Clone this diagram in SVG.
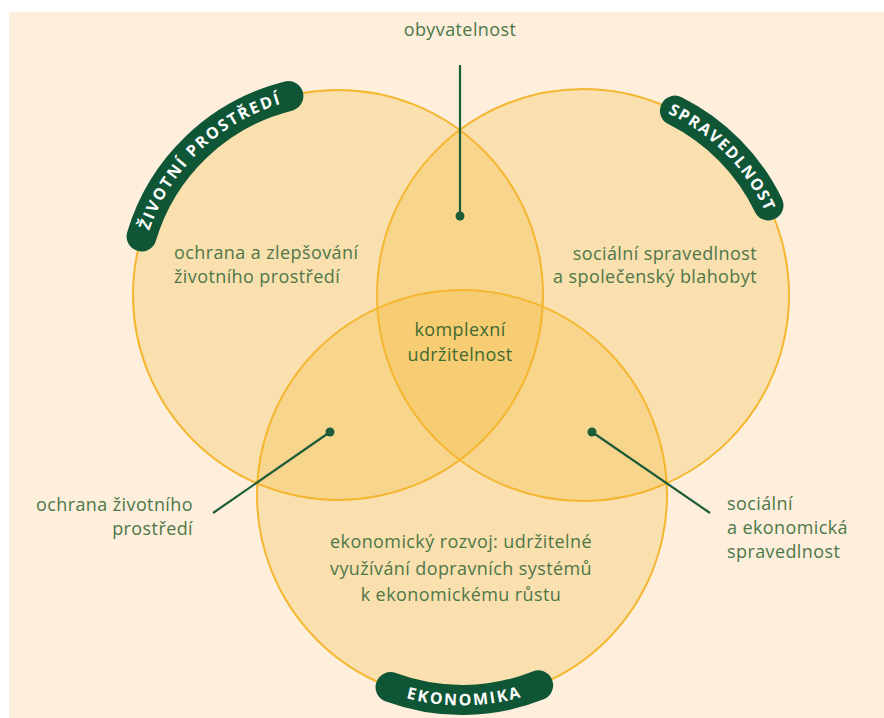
<svg xmlns="http://www.w3.org/2000/svg" width="884" height="718" viewBox="0 0 884 718">
<defs>
<style>
.circ{fill:#F5B530;fill-opacity:0.26;stroke:#F5B731;stroke-width:2}
.badge{fill:none;stroke:#0E5636;stroke-width:30;stroke-linecap:round}
.bt{font-family:"Open Sans","DejaVu Sans",sans-serif;font-weight:700;font-size:16px;fill:#ffffff;letter-spacing:2px}
.lbl{font-family:"Open Sans","DejaVu Sans",sans-serif;font-size:18px;fill:#4E7748;letter-spacing:0.4px}
.ctr{fill:#3F6A2F}
.conn line{stroke:#1E5C38;stroke-width:2.2}
.conn circle{fill:#1E5C38}
</style>
<path id="tpL" d="M139.71,273.1 A199.5,199.5 0 0 1 325.12,95.92"/>
<path id="tpR" d="M636.33,101.69 A200.5,200.5 0 0 1 776.99,244.3"/>
<path id="tpB" d="M358.99,678.57 A210.5,210.5 0 0 0 569.45,676.01"/>
</defs>
<rect x="0" y="0" width="884" height="718" fill="#ffffff"/>
<rect x="9" y="12" width="875" height="706" fill="#FDEFDC"/>
<g id="node-zivotni">
<circle class="circ" cx="338" cy="295" r="205"/>
</g>
<g id="node-spravedlnost">
<circle class="circ" cx="583" cy="295" r="206"/>
</g>
<g id="node-ekonomika">
<circle class="circ" cx="462" cy="495" r="205"/>
</g>
<g id="badge-zivotni">
<path class="badge" d="M141.55,236.43 A205,205 0 0 1 288.4,96.1"/>
<text class="bt"><textPath href="#tpL" startOffset="50%" text-anchor="middle">ŽIVOTNÍ PROSTŘEDÍ</textPath></text>
</g>
<g id="badge-spravedlnost">
<path class="badge" d="M674.92,110.65 A206,206 0 0 1 768.46,205.35"/>
<text class="bt" style="letter-spacing:1.5px"><textPath href="#tpR" startOffset="50%" text-anchor="middle">SPRAVEDLNOST</textPath></text>
</g>
<g id="badge-ekonomika">
<path class="badge" d="M390.54,687.15 A205,205 0 0 0 538.14,685.34"/>
<text class="bt"><textPath href="#tpB" startOffset="50%" text-anchor="middle">EKONOMIKA</textPath></text>
</g>
<g id="connectors" class="conn">
<line x1="460" y1="65" x2="460" y2="216"/>
<circle cx="460" cy="216" r="4.5"/>
<line x1="330" y1="432" x2="213" y2="513"/>
<circle cx="330" cy="432" r="4.5"/>
<line x1="592" y1="432" x2="710" y2="513"/>
<circle cx="592" cy="432" r="4.5"/>
</g>
<g id="label-obyvatelnost">
<text class="lbl" x="460" y="36" text-anchor="middle">obyvatelnost</text>
</g>
<g id="label-zivotni">
<text class="lbl" x="174" y="259">ochrana a zlepšování</text>
<text class="lbl" x="174" y="283">životního prostředí</text>
</g>
<g id="label-spravedlnost">
<text class="lbl" x="757" y="260" text-anchor="end">sociální spravedlnost</text>
<text class="lbl" x="757" y="283" text-anchor="end">a společenský blahobyt</text>
</g>
<g id="label-komplexni">
<text class="lbl ctr" x="460" y="336" text-anchor="middle">komplexní</text>
<text class="lbl ctr" x="460" y="361" text-anchor="middle">udržitelnost</text>
</g>
<g id="label-ochrana">
<text class="lbl" x="193" y="511" text-anchor="end">ochrana životního</text>
<text class="lbl" x="193" y="535" text-anchor="end">prostředí</text>
</g>
<g id="label-socialni">
<text class="lbl" x="727" y="510">sociální</text>
<text class="lbl" x="727" y="534">a ekonomická</text>
<text class="lbl" x="727" y="558">spravedlnost</text>
</g>
<g id="label-ekonomika">
<text class="lbl" x="461" y="548" text-anchor="middle">ekonomický rozvoj: udržitelné</text>
<text class="lbl" x="461" y="575" text-anchor="middle">využívání dopravních systémů</text>
<text class="lbl" x="461" y="601" text-anchor="middle">k ekonomickému růstu</text>
</g>
</svg>
